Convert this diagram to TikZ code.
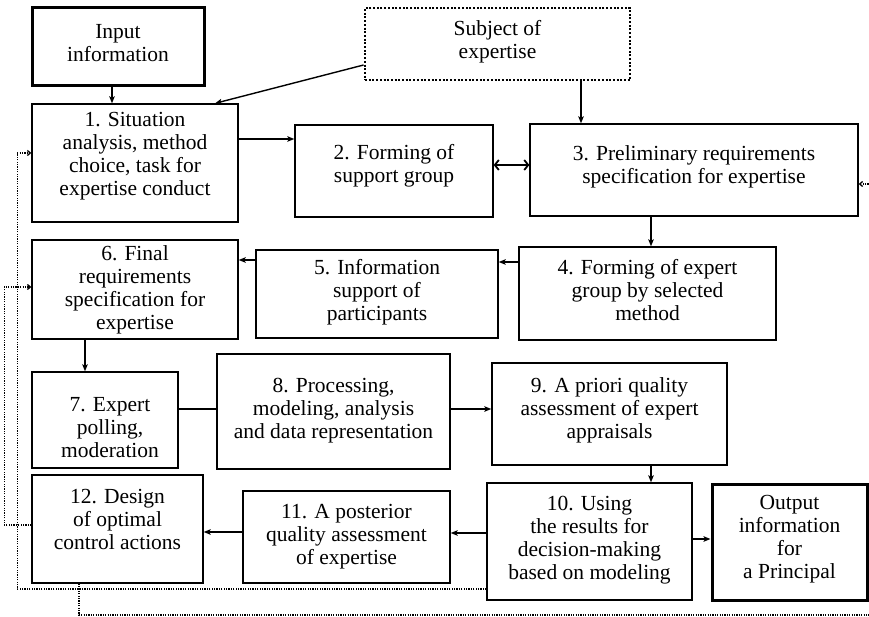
\documentclass[tikz,border=0pt]{standalone}
\usepackage{fontspec}
\setmainfont{Liberation Serif}
\usetikzlibrary{arrows.meta}
\begin{document}
\begin{tikzpicture}[x=1pt,y=-1pt,
  box/.style={draw, line width=1.3pt, inner sep=0pt},
  heavybox/.style={draw, line width=3pt, inner sep=0pt},
  dotbox/.style={draw, line width=2.8pt, dash pattern=on 2pt off 1.7pt, inner sep=0pt},
  txt/.style={align=center, inner sep=0pt, font=\fontsize{21.5}{23}\selectfont},
  arr/.style={line width=1.4pt, -{Stealth[length=7pt,width=5.5pt,inset=1.5pt]}},
  link/.style={line width=1.4pt},
  dblarr/.style={line width=1.8pt, {Straight Barb[length=4pt,width=10pt]}-{Straight Barb[length=4pt,width=10pt]}},
  fb/.style={line width=1.3pt, dash pattern=on 1.2pt off 1.2pt, -{Straight Barb[length=3pt,width=5pt]}}]
\useasboundingbox (0,0) rectangle (869,617);

% source blocks
\node[heavybox, minimum width=172, minimum height=78] (in) at (118,47) {};
\node[txt, yshift=4] (tin) at (in) {Input\\information};
\node[dotbox, minimum width=265, minimum height=72] (subj) at (497.5,44) {};
\node[txt, yshift=2] (tsubj) at (subj) {Subject of\\expertise};

% first row
\node[box, minimum width=206, minimum height=118] (b1) at (135,163) {};
\node[txt, yshift=7] (t1) at (b1) {1. Situation\\analysis, method\\choice, task for\\expertise conduct};
\node[box, minimum width=198, minimum height=92] (b2) at (394,171) {};
\node[txt, yshift=5] (t2) at (b2) {2. Forming of\\support group};
\node[box, minimum width=328, minimum height=92] (b3) at (694,170) {};
\node[txt, yshift=3] (t3) at (b3) {3. Preliminary requirements\\specification for expertise};

% second row
\node[box, minimum width=257, minimum height=93] (b4) at (647.5,293.5) {};
\node[txt, yshift=3] (t4) at (b4) {4. Forming of expert\\group by selected\\method};
\node[box, minimum width=242, minimum height=88] (b5) at (377,294) {};
\node[txt, yshift=2] (t5) at (b5) {5. Information\\support of\\participants};
\node[box, minimum width=206, minimum height=99] (b6) at (135,289.5) {};
\node[txt] (t6) at (b6) {6. Final\\requirements\\specification for\\expertise};

% third row
\node[box, minimum width=146, minimum height=96] (b7) at (105,420) {};
\node[txt, yshift=-8, xshift=5] (t7) at (b7) {7. Expert\\polling,\\moderation};
\node[box, minimum width=233, minimum height=115] (b8) at (333.5,411.5) {};
\node[txt, yshift=1] (t8) at (b8) {8. Processing,\\modeling, analysis\\and data representation};
\node[box, minimum width=235, minimum height=102] (b9) at (609.5,414) {};
\node[txt, yshift=4] (t9) at (b9) {9. A priori quality\\assessment of expert\\appraisals};

% fourth row
\node[box, minimum width=205, minimum height=117] (b10) at (589.5,541.5) {};
\node[txt, yshift=1] (t10) at (b10) {10. Using\\the results for\\decision-making\\based on modeling};
\node[box, minimum width=207, minimum height=92] (b11) at (346.5,537) {};
\node[txt] (t11) at (b11) {11. A posterior\\quality assessment\\of expertise};
\node[box, minimum width=171, minimum height=108] (b12) at (117.5,529) {};
\node[txt, yshift=10] (t12) at (b12) {12. Design\\of optimal\\control actions};
\node[heavybox, minimum width=155, minimum height=116] (out) at (789.5,542) {};
\node[txt, yshift=3] (tout) at (out) {Output\\information\\for\\a Principal};

% main flow
\draw[arr] ([xshift=-6]in.south) -- ([xshift=-6]in.south |- b1.north);
\draw[arr] ([yshift=-21]subj.west) -- ([xshift=80]b1.north);
\draw[arr] ([xshift=83.5]subj.south) -- ([xshift=83.5]subj.south |- b3.north);
\draw[arr] ([yshift=24]b1.east) -- ([yshift=24]b1.east -| b2.west);
\draw[dblarr] ([yshift=6]b2.east) -- ([yshift=6]b2.east -| b3.west);
\draw[arr] ([xshift=-43]b3.south) -- ([xshift=-43]b3.south |- b4.north);
\draw[arr] ([yshift=31.5]b4.west) -- ([yshift=31.5]b4.west -| b5.east);
\draw[arr] ([yshift=34]b5.west) -- ([yshift=34]b5.west -| b6.east);
\draw[arr] ([xshift=-50]b6.south) -- ([xshift=-50]b6.south |- b7.north);
\draw[link] ([yshift=11]b7.east) -- ([yshift=11]b7.east -| b8.west);
\draw[arr] ([yshift=2.5]b8.east) -- ([yshift=2.5]b8.east -| b9.west);
\draw[arr] ([xshift=41.5]b9.south) -- ([xshift=41.5]b9.south |- b10.north);
\draw[arr] ([yshift=8.5]b10.west) -- ([yshift=8.5]b10.west -| b11.east);
\draw[arr] ([yshift=5]b11.west) -- ([yshift=5]b11.west -| b12.east);
\draw[arr] ([yshift=2.5]b10.east) -- ([yshift=2.5]b10.east -| out.west);

% feedback loops
\draw[fb] ([yshift=-47.5]b10.west) -| ([xshift=-14,yshift=10]b1.west) -- ([yshift=10]b1.west);
\draw[fb] ([yshift=4]b12.west) -| ([xshift=-27,yshift=2.5]b6.west) -- ([yshift=2.5]b6.west);
\coordinate (rc) at (875,615);
\draw[fb] ([xshift=-38.5]b12.south) |- (rc) |- ([yshift=-14]b3.east);
\end{tikzpicture}
\end{document}
